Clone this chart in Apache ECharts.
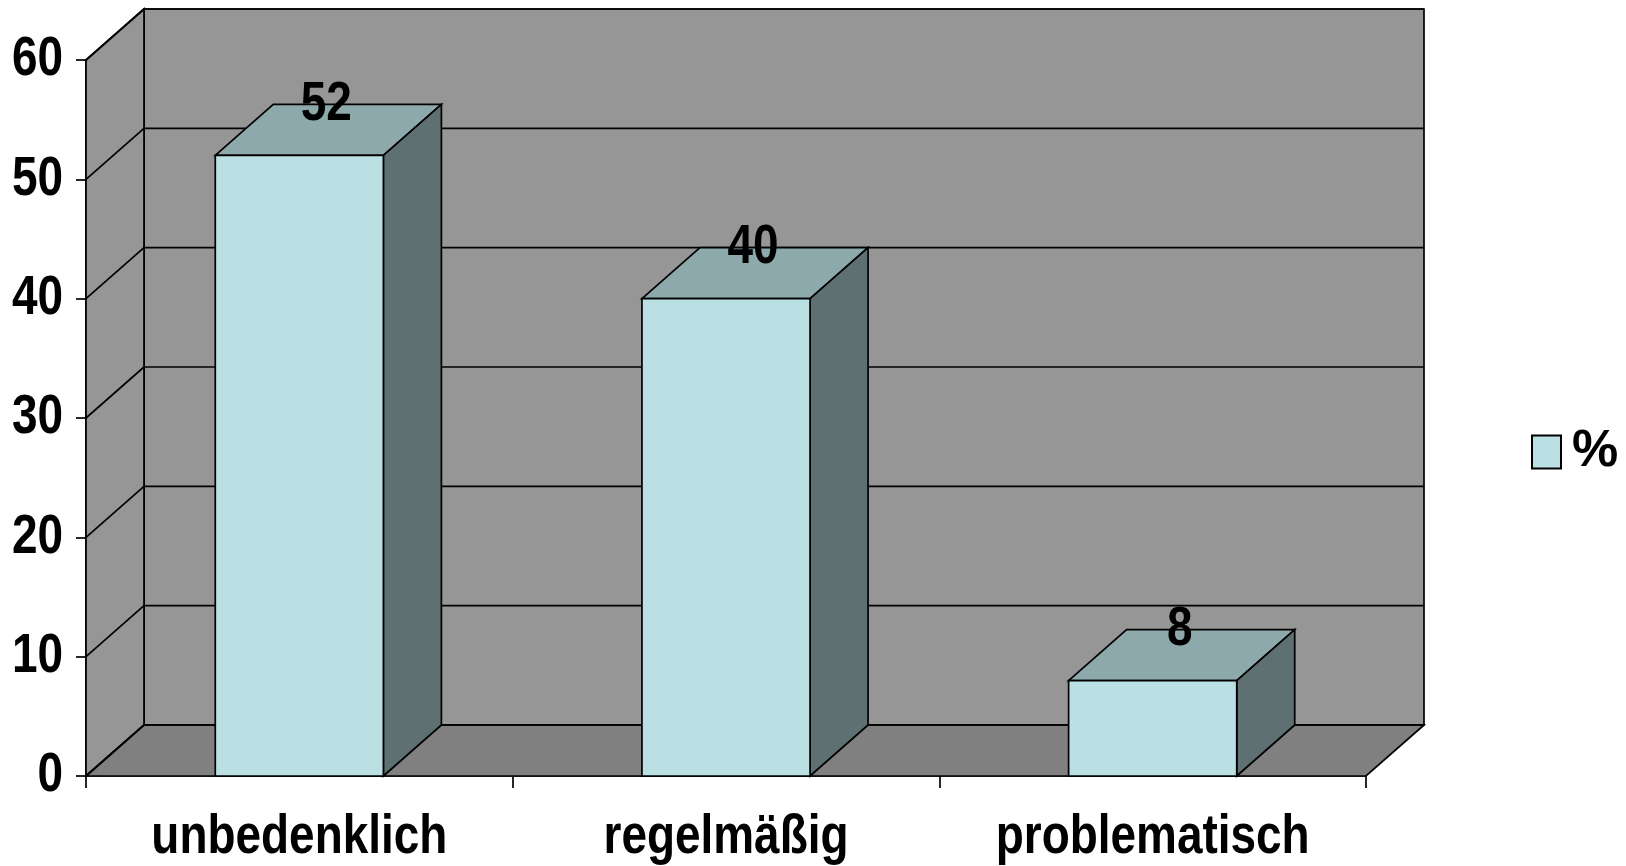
<!DOCTYPE html>
<html>
<head>
<meta charset="utf-8">
<script src="https://cdn.jsdelivr.net/npm/echarts@6/dist/echarts.min.js"></script>
<style>
  html, body { margin: 0; padding: 0; background: #fff; }
  #chart { width: 1626px; height: 866px; }
</style>
</head>
<body>
<div id="chart"></div>
<script>
// Data
const categories = ['unbedenklich', 'regelmäßig', 'problematisch'];
const percentValues = [52, 40, 8];
const yTicks = [0, 10, 20, 30, 40, 50, 60];

// Look of the pseudo-3D chart
const FONT = "'Liberation Sans',Arial,sans-serif";
const NARROW = 0.82;  // horizontal squeeze for a narrow bold face
const DEPTH_X = 58;   // horizontal offset of the back plane
const DEPTH_Y = 51;   // vertical offset of the back plane
const WALL = '#969696';
const FLOOR = '#808080';
const FRONT = '#BBE0E3';
const TOP = '#8EA9AC';
const SIDE = '#5E7072';
const EDGE = { stroke: '#000', lineWidth: 1.7 };

function narrowText(x, y, text, align, vAlign) {
  return {
    type: 'text',
    x: x,
    y: y,
    scaleX: NARROW,
    style: {
      x: 0,
      y: 0,
      text: text,
      align: align,
      verticalAlign: vAlign,
      fill: '#000',
      fontSize: 56,
      fontWeight: 'bold',
      fontFamily: FONT
    }
  };
}

// Back wall, side wall, floor, their grid lines and the value-axis labels
function renderWalls(params, api) {
  const cs = params.coordSys;
  const x0 = cs.x, x1 = cs.x + cs.width;
  const yt = cs.y, yb = cs.y + cs.height;
  const dx = DEPTH_X, dy = DEPTH_Y;
  const children = [];
  if (params.dataIndex === 0) {
    children.push({
      type: 'polygon',
      shape: { points: [[x0 + dx, yt - dy], [x1 + dx, yt - dy], [x1 + dx, yb - dy], [x0 + dx, yb - dy]] },
      style: Object.assign({ fill: WALL }, EDGE)
    });
    children.push({
      type: 'polygon',
      shape: { points: [[x0, yb], [x0, yt], [x0 + dx, yt - dy], [x0 + dx, yb - dy]] },
      style: Object.assign({ fill: WALL }, EDGE)
    });
    children.push({
      type: 'polygon',
      shape: { points: [[x0, yb], [x1, yb], [x1 + dx, yb - dy], [x0 + dx, yb - dy]] },
      style: Object.assign({ fill: FLOOR }, EDGE)
    });
  }
  const v = api.value(1);
  const y = api.coord([0, v])[1];
  children.push({
    type: 'line',
    shape: { x1: x0 + dx, y1: y - dy, x2: x1 + dx, y2: y - dy },
    style: EDGE
  });
  children.push({
    type: 'line',
    shape: { x1: x0, y1: y, x2: x0 + dx, y2: y - dy },
    style: EDGE
  });
  children.push(narrowText(x0 - 23, y, String(v), 'right', 'middle'));
  return { type: 'group', children: children };
}

// Category names under the floor
function renderCategoryLabel(params, api) {
  const p = api.coord([api.value(0), 0]);
  return narrowText(p[0], p[1] + 62, categories[params.dataIndex], 'center', 'middle');
}

// Box-shaped bars with value label above the top face
function renderBar(params, api) {
  const top = api.coord([api.value(0), api.value(1)]);
  const base = api.coord([api.value(0), 0]);
  const w = api.size([1, 0])[0] * 0.394;
  const l = top[0] - w / 2, r = top[0] + w / 2, t = top[1], b = base[1];
  const dx = DEPTH_X, dy = DEPTH_Y;
  return {
    type: 'group',
    children: [
      {
        type: 'polygon',
        shape: { points: [[l, t], [r, t], [r + dx, t - dy], [l + dx, t - dy]] },
        style: Object.assign({ fill: TOP }, EDGE)
      },
      {
        type: 'polygon',
        shape: { points: [[r, t], [r, b], [r + dx, b - dy], [r + dx, t - dy]] },
        style: Object.assign({ fill: SIDE }, EDGE)
      },
      {
        type: 'rect',
        shape: { x: l, y: t, width: w, height: b - t },
        style: Object.assign({ fill: FRONT }, EDGE)
      },
      narrowText(top[0] + dx / 2 - 2, t - dy, String(api.value(1)), 'center', 'middle')
    ]
  };
}

const chart = echarts.init(document.getElementById('chart'), null, { renderer: 'canvas' });

chart.setOption({
  animation: false,
  backgroundColor: '#fff',
  grid: { left: 86, right: 260, top: 60, bottom: 90 },
  legend: {
    data: ['%'],
    selectedMode: false,
    orient: 'vertical',
    left: 1531,
    top: 424,
    padding: 0,
    icon: 'rect',
    itemWidth: 29,
    itemHeight: 33,
    itemStyle: { color: FRONT, borderColor: '#000', borderWidth: 2 },
    textStyle: {
      color: '#000', fontSize: 52, fontWeight: 'bold', fontFamily: FONT,
      lineHeight: 56, padding: [0, 0, 0, 6]
    }
  },
  xAxis: {
    type: 'category',
    data: categories,
    boundaryGap: true,
    axisLine: { show: true, lineStyle: { color: '#000', width: 1.7 } },
    axisTick: { show: true, length: 12, lineStyle: { color: '#000', width: 1.7 } },
    axisLabel: { show: false },
    splitLine: { show: false }
  },
  yAxis: {
    type: 'value',
    min: 0,
    max: 60,
    interval: 10,
    axisLine: { show: true, lineStyle: { color: '#000', width: 1.7 } },
    axisTick: { show: true, length: 10, lineStyle: { color: '#000', width: 1.7 } },
    axisLabel: { show: false },
    splitLine: { show: false }
  },
  series: [
    {
      name: 'Wände',
      type: 'custom',
      renderItem: renderWalls,
      clip: false,
      silent: true,
      z: 1,
      encode: { x: 0, y: 1 },
      data: yTicks.map(function (t) { return [0, t]; })
    },
    {
      name: 'Kategorien',
      type: 'custom',
      renderItem: renderCategoryLabel,
      clip: false,
      silent: true,
      z: 1,
      encode: { x: 0, y: 1 },
      data: categories.map(function (c, i) { return [i, 0]; })
    },
    {
      name: '%',
      type: 'custom',
      renderItem: renderBar,
      clip: false,
      z: 3,
      itemStyle: { color: FRONT },
      encode: { x: 0, y: 1 },
      data: percentValues.map(function (v, i) { return [i, v]; })
    }
  ]
});
</script>
</body>
</html>
